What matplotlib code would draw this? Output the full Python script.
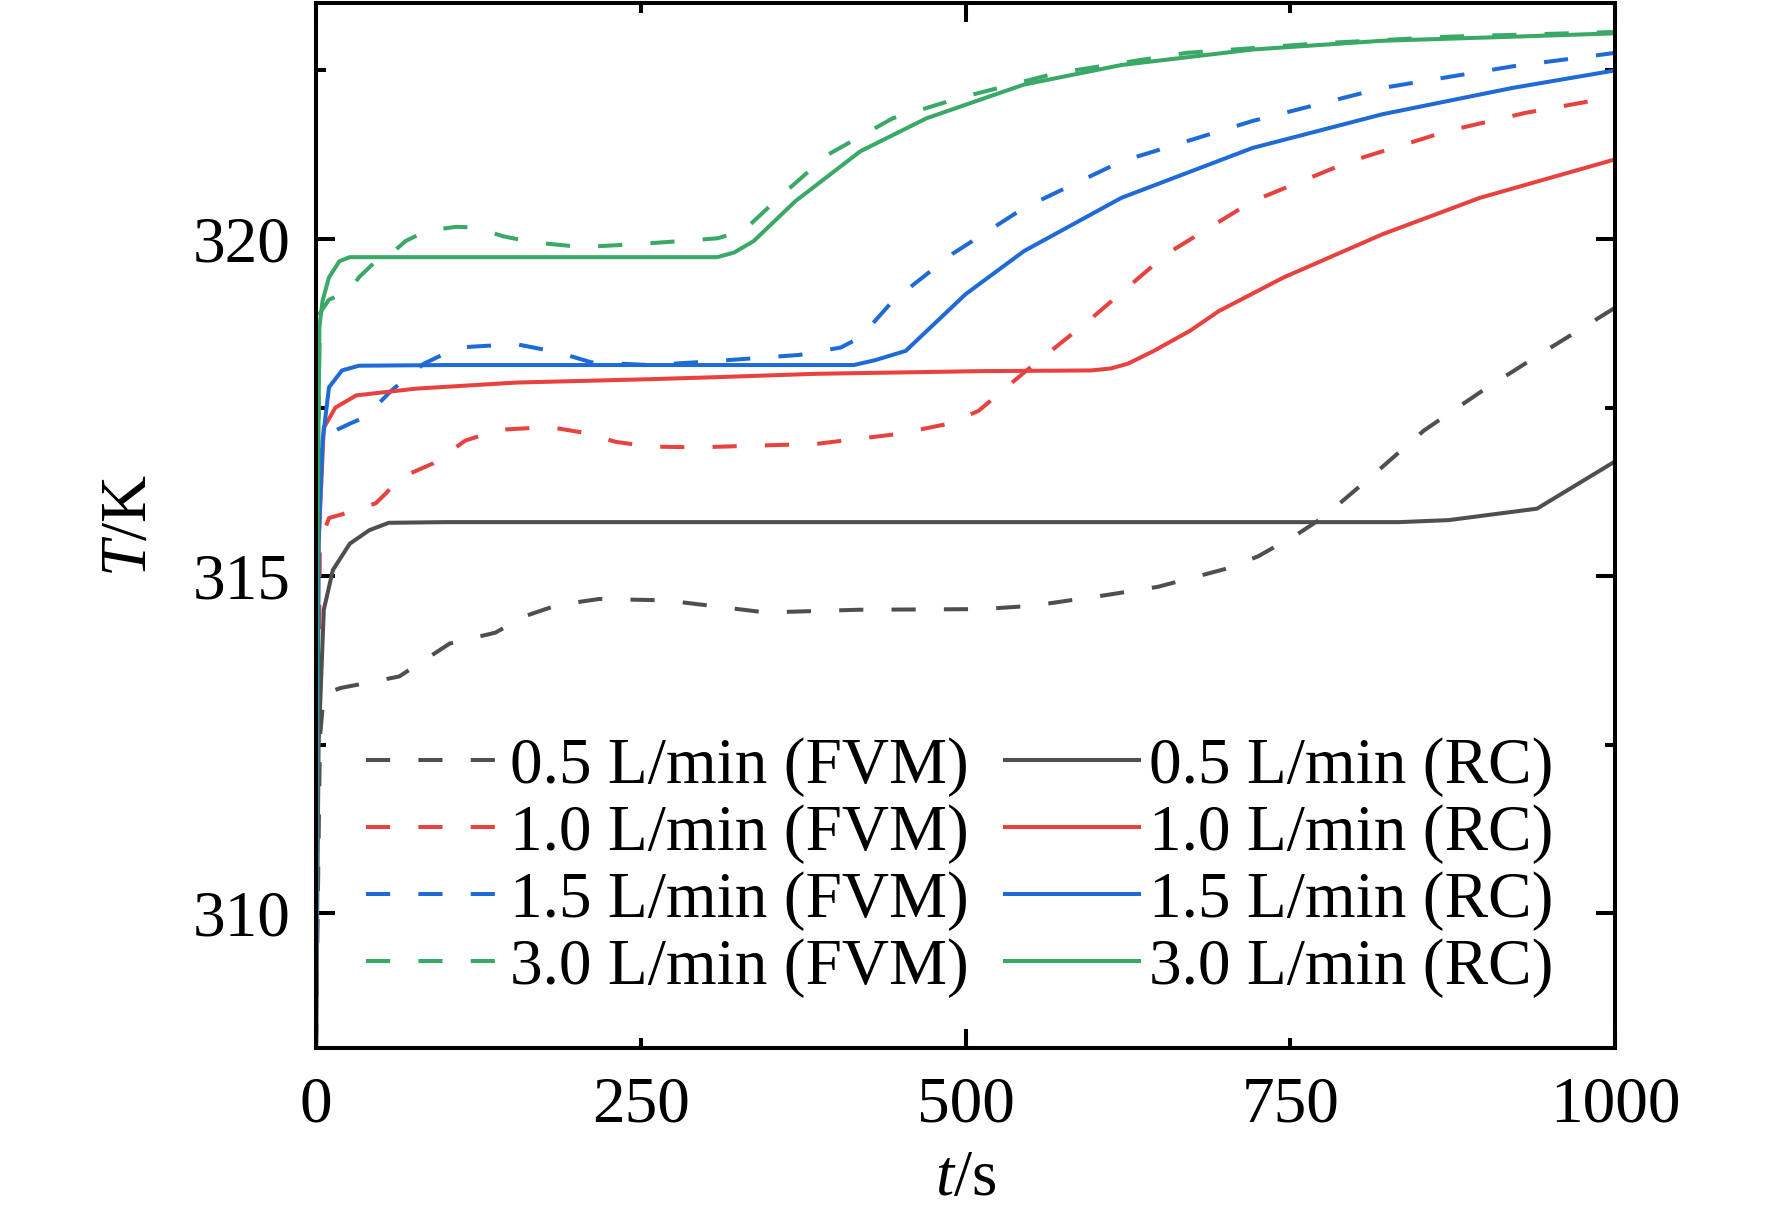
import numpy as np
import matplotlib
matplotlib.use("Agg")
import matplotlib.pyplot as plt
from matplotlib.ticker import FixedLocator, FuncFormatter

plt.rcParams['font.family'] = ['Liberation Serif', 'DejaVu Serif']
plt.rcParams['mathtext.fontset'] = 'custom'
plt.rcParams['mathtext.rm'] = 'Liberation Serif'
plt.rcParams['mathtext.it'] = 'Liberation Serif:italic'

# ---------------- data ----------------
t_gray_fvm = [0, 3, 6, 19, 64, 80, 103, 138, 160, 186, 218, 269, 308, 346, 417, 513, 552,
              609, 648, 699, 725, 757, 776, 815, 853, 898, 943, 975, 1000]
T_gray_fvm = [308.0, 312.6, 313.25, 313.34, 313.51, 313.71, 314.0, 314.16, 314.4, 314.57, 314.66,
              314.64, 314.55, 314.46, 314.5, 314.51, 314.56, 314.72, 314.84, 315.1, 315.29, 315.64,
              315.88, 316.52, 317.16, 317.75, 318.3, 318.68, 318.98]

t_gray_rc = [0, 2, 6, 13, 26, 41, 56, 100, 300, 600, 834, 872, 940, 1000]
T_gray_rc = [308.0, 312.5, 314.5, 315.09, 315.48, 315.68, 315.79, 315.80, 315.80, 315.80,
             315.80, 315.83, 316.0, 316.7]

t_red_fvm = [0, 3, 10, 26, 46, 54, 64, 90, 115, 141, 180, 205, 231, 257, 295, 385, 449, 487,
             510, 547, 595, 655, 721, 796, 871, 931, 1000]
T_red_fvm = [308.0, 315.5, 315.86, 315.95, 316.08, 316.23, 316.45, 316.67, 317.01, 317.17,
             317.21, 317.13, 316.99, 316.92, 316.91, 316.96, 317.11, 317.26, 317.45, 318.05,
             318.79, 319.78, 320.56, 321.15, 321.6, 321.87, 322.11]

t_red_rc = [0, 2, 6, 15, 31, 77, 154, 257, 308, 385, 513, 597, 612, 625, 645, 673, 695, 745,
            821, 896, 1000]
T_red_rc = [308.0, 315.5, 317.2, 317.5, 317.68, 317.78, 317.87, 317.92, 317.95, 318.0, 318.04,
            318.05, 318.08, 318.15, 318.34, 318.64, 318.93, 319.43, 320.07, 320.61, 321.18]

t_blue_fvm = [0, 2, 4, 15, 26, 38, 58, 83, 109, 154, 186, 212, 257, 301, 372, 404, 419, 444,
              490, 545, 620, 721, 821, 921, 1000]
T_blue_fvm = [308.0, 315.5, 317.06, 317.16, 317.26, 317.36, 317.75, 318.15, 318.39, 318.44,
              318.32, 318.17, 318.13, 318.18, 318.28, 318.39, 318.54, 319.08, 319.78, 320.46,
              321.15, 321.75, 322.24, 322.56, 322.76]

t_blue_rc = [0, 2, 5, 10, 20, 33, 100, 300, 414, 430, 454, 500, 545, 620, 721, 821, 921, 1000]
T_blue_rc = [308.0, 315.5, 317.0, 317.8, 318.05, 318.12, 318.13, 318.13, 318.13, 318.2, 318.34,
             319.18, 319.82, 320.61, 321.35, 321.85, 322.24, 322.5]

t_green_fvm = [0, 1, 3, 10, 26, 33, 46, 56, 69, 85, 108, 123, 144, 167, 205, 244, 282, 309,
               329, 359, 394, 444, 495, 570, 670, 771, 871, 1000]
T_green_fvm = [308.0, 316.0, 318.9, 319.1, 319.23, 319.43, 319.67, 319.75, 319.97, 320.12,
               320.18, 320.17, 320.04, 319.95, 319.88, 319.92, 319.97, 320.01, 320.12, 320.66,
               321.25, 321.79, 322.09, 322.46, 322.76, 322.9, 323.0, 323.07]

t_green_rc = [0, 1, 2.6, 5, 10, 18, 26, 100, 309, 322, 337, 369, 419, 470, 545, 620, 721, 821,
              921, 1000]
T_green_rc = [308.0, 315.0, 318.69, 319.08, 319.43, 319.67, 319.73, 319.73, 319.73, 319.8,
              319.97, 320.56, 321.30, 321.79, 322.29, 322.58, 322.81, 322.94, 323.0, 323.05]

flows = ["0.5", "1.0", "1.5", "3.0"]
colors = ["#4f4f4f", "#e8423f", "#1f6bd6", "#3aa867"]

fvm_series = [(t_gray_fvm, T_gray_fvm), (t_red_fvm, T_red_fvm),
              (t_blue_fvm, T_blue_fvm), (t_green_fvm, T_green_fvm)]
rc_series = [(t_gray_rc, T_gray_rc), (t_red_rc, T_red_rc),
             (t_blue_rc, T_blue_rc), (t_green_rc, T_green_rc)]

x_major = [0, 500, 1000]
x_minor = [250, 750]
y_major = [310, 315, 320]
y_minor = [312.5, 317.5, 322.5]

# ---------------- figure ----------------
fig = plt.figure(figsize=(17.72, 12.13), dpi=100)
ax = fig.add_axes([316/1772, 1-1048/1213, 1299/1772, 1045/1213])

lw = 2.9
dash = (0, (6.0, 7.0))
handles = []
for (t, T), f, c in zip(fvm_series, flows, colors):
    h, = ax.plot(t, T, color=c, lw=lw, linestyle=dash, label=f"{f} L/min (FVM)")
    handles.append(h)
for (t, T), f, c in zip(rc_series, flows, colors):
    h, = ax.plot(t, T, color=c, lw=lw, linestyle='-', label=f"{f} L/min (RC)")
    handles.append(h)

ax.set_xlim(0, 1000)
ax.set_ylim(308.0, 323.5)

ax.xaxis.set_major_locator(FixedLocator(x_major))
ax.xaxis.set_minor_locator(FixedLocator(x_minor))
ax.yaxis.set_major_locator(FixedLocator(y_major))
ax.yaxis.set_minor_locator(FixedLocator(y_minor))
ax.xaxis.set_minor_formatter(FuncFormatter(lambda v, p: f"{v:g}"))

fs = 47
ax.tick_params(which='both', direction='in', top=True, right=True, width=2.9,
               labelsize=fs, colors='black')
ax.tick_params(which='major', length=14)
ax.tick_params(which='minor', length=7)
ax.tick_params(axis='x', which='both', pad=20)
ax.tick_params(axis='y', which='both', pad=18)
ax.tick_params(axis='y', which='minor', labelleft=False)

for s in ax.spines.values():
    s.set_linewidth(2.9)

ax.set_xlabel(r"$\mathit{t}$/s", fontsize=fs, labelpad=10)
ax.set_ylabel(r"$\mathit{T}$/K", fontsize=fs, labelpad=24)

ax.legend(handles=handles, ncol=2, loc='upper left', bbox_to_anchor=(0.0385, 0.297),
          frameon=False, fontsize=fs, handlelength=2.05, handletextpad=0.16,
          columnspacing=0.55, labelspacing=0.11, borderpad=0, borderaxespad=0)

fig.savefig("out.png", dpi=100)
